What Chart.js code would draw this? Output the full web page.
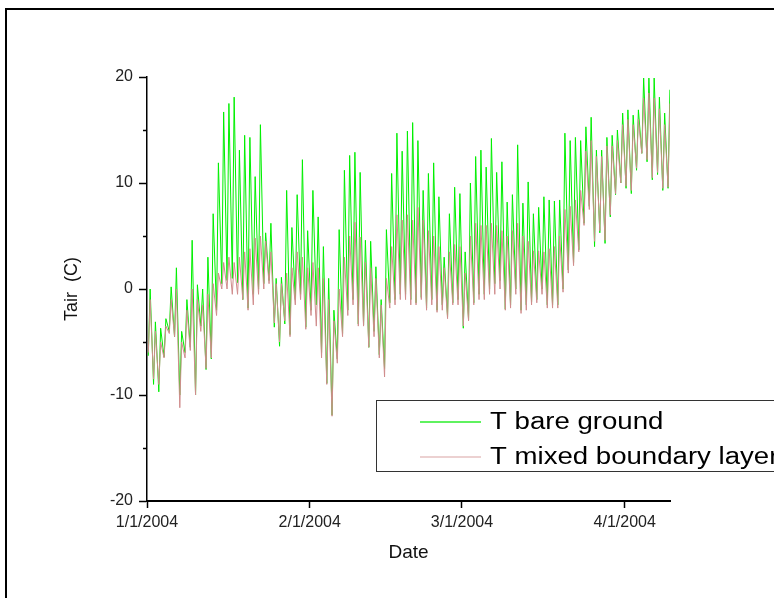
<!DOCTYPE html>
<html>
<head>
<meta charset="utf-8">
<title>Tair</title>
<script src="https://cdn.jsdelivr.net/npm/chart.js@4.4.1/dist/chart.umd.min.js"></script>
<style>
  html, body { margin: 0; padding: 0; background: #fff; }
  #wrap { width: 774px; height: 598px; }
</style>
</head>
<body>
<div id="wrap"><canvas id="tairChart" width="774" height="598"></canvas></div>
<script>
/* ====== DATA (daily extremes) ====== */
// one entry per day, day 0 = 1/1/2004 ... day 99 = 4/9/2004
const seriesNames = ['T bare ground', 'T mixed boundary layer'];

const bareMax = [
  0, -3.1, -3.7, -2.8, 0.2, 2.0, -4, -1, 4.6, 0.4,
  0, 3.0, 7.1, 11.9, 16.7, 17.5, 18.1, 13.1, 14.5, 14.3,
  10.6, 15.5, 5.3, 6.2, 1, 1.1, 9.3, 5.8, 8.9, 12.2,
  5.5, 9.3, 6.8, 4, 1, -2, 5.6, 11.2, 12.6, 12.9,
  11.0, 4.6, 4.5, 2.1, -1, 5.6, 10.9, 14.7, 13, 14.9,
  15.7, 14.0, 9.3, 10.9, 11.9, 8.7, 3.0, 7.1, 9.6, 9.0,
  3.5, 10, 12.5, 13.1, 11.5, 14.2, 11.0, 12, 8.2, 8.9,
  13.6, 8.1, 10.1, 7.1, 7.7, 8.7, 8.4, 8.3, 8.4, 14.7,
  14.0, 14.3, 14.0, 15.3, 16.2, 13.1, 13.1, 14.3, 14.5, 15,
  16.6, 16.9, 16.4, 16.9, 19.9, 19.9, 19.9, 18.1, 16.6, 18.8
];
const bareMin = [
  -6.3, -9, -9.7, -6.4, -4, -4.5, -10, -6, -5.5, -10,
  -3.5, -7.6, -6.6, -2, 0.5, 0.8, 1, 0.6, -1, -1.8,
  -0.5, 0, 0.5, 0.8, -3.6, -5.4, -3.3, -4.3, -1, -0.5,
  -3.6, -2, -1.5, -6, -8.9, -11.9, -6.6, -4.2, -2, -1,
  -3.3, -3.4, -5.5, -4, -6.2, -7.5, -1.3, -1, -0.5, -0.5,
  -1, -1.3, -0.8, -1.8, -1, -2, -1.5, -2.6, -1.3, -1,
  -3.7, -2.9, -1.3, -0.5, -0.5, 0, 0.5, 0.8, -1.9, -1.5,
  0, -2, -1.5, -1.2, -1, 0, -1.5, -1.5, -1.5, 0,
  1.8, 2.5, 3.7, 6.2, 7.8, 4.0, 5.3, 4.3, 6.8, 8.9,
  10, 9.5, 9, 11.2, 12.8, 12, 10.3, 10.8, 9.3, 9.5
];
const mixedMax = [
  -1, -4, -5, -3.5, -1, 0, -5, -2, 0, -1,
  -1.5, -0.5, 0.5, 1.5, 2.5, 3, 2.5, 3, 3.5, 3.8,
  4.8, 5, 4.5, 3.5, 0.5, 0.5, 1.5, 2, 3.5, 3,
  2, 2.5, 2, 1, -1, -3, 0, 3, 5, 6.3,
  4.9, 2.5, 2, 1, -1.5, 1, 4, 7, 6.5, 7,
  6.5, 7.7, 6.5, 5.5, 5, 4, 2, 3.5, 4.2, 4,
  1.5, 5, 6.2, 6, 6, 6.2, 6, 5.5, 5, 5.5,
  6.2, 5, 4.5, 3.6, 3.6, 3.5, 3.8, 4, 5, 7.5,
  7.8, 8.4, 9.3, 13, 14, 12.5, 12.5, 13.5, 13.5, 14,
  15.5, 16, 15.5, 16, 18, 18.5, 18, 17, 15.5, 17.5
];
const mixedMin = [
  -6, -8.5, -9, -6.5, -4.2, -4.5, -11.2, -6.5, -5.8, -10,
  -4, -7.5, -6.5, -2.5, 0, 0, -0.5, -0.5, -1, -2,
  -1.5, -0.5, 0, 0.5, -3.2, -5, -3, -4.5, -1.5, -1,
  -3.8, -2.5, -3.5, -6.5, -9, -12, -7, -4.5, -2.5, -1.5,
  -3.5, -3.5, -5.5, -4.5, -6.5, -8.3, -1.8, -1.5, -1, -1,
  -1.5, -1.5, -1, -2, -1.5, -2.2, -2, -2.8, -1.5, -1.5,
  -3.5, -3, -1.5, -1, -1, -0.5, -0.5, 0, -2, -1.8,
  -0.5, -2.3, -2, -1.5, -1.3, -0.5, -1.8, -1.8, -1.8, -0.3,
  1.5, 2.2, 3.5, 6, 7.5, 4.5, 5.5, 4.6, 7, 9,
  10, 9.7, 9.3, 11.4, 12.8, 12.2, 10.5, 11, 9.5, 9.6
];

// time of day (fraction) for the daily low and high
const MIN_AT = 0.25;
const MAX_AT = 0.6;

// x axis: days since 1/1/2004
const tickDays = [0, 31, 60, 91];
const tickLabels = ['1/1/2004', '2/1/2004', '3/1/2004', '4/1/2004'];
const yMajorTicks = [-20, -10, 0, 10, 20];
const yMinorTicks = [-15, -5, 5, 15];

const FONT = '"Liberation Sans", Arial, sans-serif';

/* ====== HELPERS ====== */
function buildSeries(mins, maxs) {
    const pts = [];
    for (let d = 0; d < maxs.length; d++) {
        pts.push({ x: d + MIN_AT, y: mins[d] });
        pts.push({ x: d + MAX_AT, y: maxs[d] });
    }
    return pts;
}

// white page + the black frame that is cut off at the right/bottom
const pageFrame = {
    id: 'pageFrame',
    beforeDraw(chart) {
        const c = chart.ctx;
        c.save();
        c.fillStyle = '#fff';
        c.fillRect(0, 0, chart.width, chart.height);
        c.strokeStyle = '#000';
        c.lineWidth = 2;
        c.strokeRect(6, 9, chart.width + 20, chart.height + 20);
        c.restore();
    }
};

// short minor ticks on the y axis
const minorTicks = {
    id: 'minorTicks',
    afterDraw(chart) {
        const c = chart.ctx;
        const y = chart.scales.y;
        c.save();
        c.strokeStyle = '#000';
        c.lineWidth = 1.5;
        yMinorTicks.forEach(v => {
            const py = Math.round(y.getPixelForValue(v)) + 0.5;
            c.beginPath();
            c.moveTo(y.right - 4, py);
            c.lineTo(y.right, py);
            c.stroke();
        });
        c.restore();
    }
};

// boxed legend sitting inside the plot, running off the right edge
const legendBox = {
    id: 'legendBox',
    afterDraw(chart) {
        const c = chart.ctx;
        c.save();
        c.strokeStyle = '#333';
        c.lineWidth = 1;
        c.strokeRect(376.5, 400.5, 460, 71);
        chart.data.datasets.forEach((ds, i) => {
            const ly = 422 + i * 35;
            c.strokeStyle = ds.legendColor;
            c.lineWidth = 1.5;
            c.beginPath();
            c.moveTo(420, ly);
            c.lineTo(481, ly);
            c.stroke();
            c.save();
            c.translate(490, ly + 1);
            c.scale(1.2, 1);
            c.font = '23px ' + FONT;
            c.fillStyle = '#000';
            c.textBaseline = 'middle';
            c.fillText(ds.label, 0, 0);
            c.restore();
        });
        c.restore();
    }
};

/* ====== CHART ====== */
const ctx = document.getElementById('tairChart').getContext('2d');

new Chart(ctx, {
    type: 'line',
    data: {
        datasets: [
            {
                label: seriesNames[0],
                data: buildSeries(bareMin, bareMax),
                borderColor: '#00f000',
                legendColor: '#2aee2a',
                borderWidth: 1,
                pointRadius: 0,
                tension: 0,
                order: 1
            },
            {
                label: seriesNames[1],
                data: buildSeries(mixedMin, mixedMax),
                borderColor: 'rgb(208, 140, 140)',
                legendColor: '#e6c2c2',
                borderWidth: 1,
                pointRadius: 0,
                tension: 0,
                order: 0
            }
        ]
    },
    options: {
        responsive: false,
        animation: false,
        devicePixelRatio: 1,
        layout: { padding: { top: 77, right: 104, bottom: 0, left: 0 } },
        plugins: {
            legend: { display: false },
            tooltip: { enabled: false }
        },
        scales: {
            x: {
                type: 'linear',
                min: 0,
                max: 99 + MAX_AT + 0.02,
                afterBuildTicks: s => { s.ticks = tickDays.map(v => ({ value: v })); },
                afterFit: s => { s.height = 97; },
                ticks: {
                    autoSkip: false,
                    maxRotation: 0,
                    padding: 5,
                    color: '#222',
                    font: { family: FONT, size: 16 },
                    callback: (v, i) => tickLabels[i]
                },
                grid: { drawOnChartArea: false, tickLength: 7, tickColor: '#000', tickWidth: 1.5 },
                border: { color: '#000', width: 2 },
                title: {
                    display: true,
                    text: 'Date',
                    color: '#111',
                    font: { family: FONT, size: 19 },
                    padding: { top: 0, bottom: 34 }
                }
            },
            y: {
                min: -20,
                max: 20,
                afterBuildTicks: s => { s.ticks = yMajorTicks.map(v => ({ value: v })); },
                afterFit: s => { s.width = 147; },
                ticks: {
                    padding: 6,
                    color: '#222',
                    font: { family: FONT, size: 16 },
                    callback: v => String(v)
                },
                grid: { drawOnChartArea: false, tickLength: 8, tickColor: '#000', tickWidth: 1.5 },
                border: { color: '#000', width: 1.5 },
                title: {
                    display: true,
                    text: 'Tair  (C)',
                    color: '#111',
                    font: { family: FONT, size: 18 },
                    padding: { top: 61, bottom: 0 }
                }
            }
        }
    },
    plugins: [pageFrame, minorTicks, legendBox]
});
</script>
</body>
</html>
